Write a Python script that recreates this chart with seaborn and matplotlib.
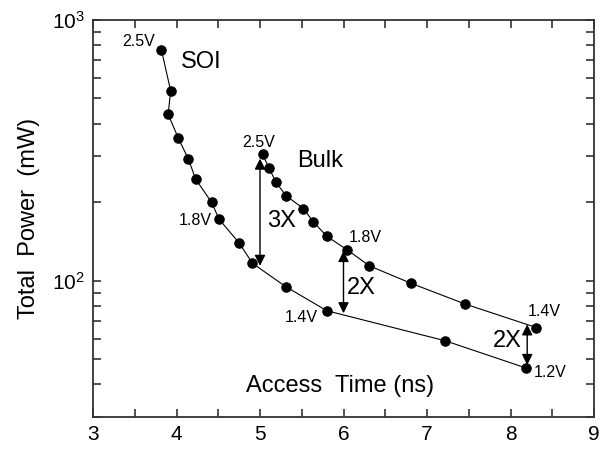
import math
import matplotlib
matplotlib.use("Agg")
import matplotlib.pyplot as plt
import matplotlib.ticker as mticker
import seaborn as sns
import pandas as pd

# ---- data ----
soi_time = [3.82, 3.93, 3.90, 4.02, 4.14, 4.23, 4.42, 4.51, 4.75, 4.91, 5.31, 5.80, 7.22, 8.19]
soi_power = [767, 535, 435, 353, 294, 245, 200, 172, 139.6, 116.6, 94.8, 76.7, 58.8, 46.2]
bulk_time = [5.03, 5.11, 5.19, 5.31, 5.52, 5.64, 5.80, 6.04, 6.31, 6.81, 7.46, 8.31]
bulk_power = [305, 270, 239, 212, 189, 168, 148, 131.6, 114, 97.7, 81.3, 66.1]

arrow_x = [5.0, 6.0, 8.2]
arrow_top = [294, 130, 68]
arrow_bottom = [114, 75, 47.5]
arrow_labels = ["3X", "2X", "2X"]

x_ticks = [3, 4, 5, 6, 7, 8, 9]
y_limits = [30, 1000]

sns.set_style("ticks")
plt.rcParams['font.family'] = ['Liberation Sans', 'DejaVu Sans']
plt.rcParams['mathtext.fontset'] = 'custom'
plt.rcParams['mathtext.rm'] = 'Liberation Sans'
plt.rcParams['mathtext.it'] = 'Liberation Sans'
for k in ['text.color', 'axes.labelcolor', 'xtick.color', 'ytick.color']:
    plt.rcParams[k] = 'black'

fig = plt.figure(figsize=(6.06, 4.5), dpi=100)
ax = fig.add_axes([93/606, 1-417/450, (594-93)/606, (417-20)/450])

df_soi = pd.DataFrame({"t": soi_time, "p": soi_power})
df_bulk = pd.DataFrame({"t": bulk_time, "p": bulk_power})
for df in (df_soi, df_bulk):
    sns.lineplot(data=df, x="t", y="p", sort=False, estimator=None, ax=ax,
                 color="black", lw=0.8, marker="o", markersize=6.8,
                 markeredgecolor="black", markerfacecolor="black")

for xa, yt, yb in zip(arrow_x, arrow_top, arrow_bottom):
    ax.annotate("", xy=(xa, yt), xytext=(xa, yb),
                arrowprops=dict(arrowstyle="<|-|>", color="black", lw=1.0,
                                mutation_scale=16, shrinkA=0, shrinkB=0))

ax.set_yscale("log")
ax.set_xlim(3, 9)
ax.set_ylim(*y_limits)
ax.set_xticks(x_ticks)
ax.set_xticklabels([str(v) for v in x_ticks])
ax.xaxis.set_minor_locator(mticker.MultipleLocator(0.5))
ax.yaxis.set_major_locator(mticker.LogLocator(base=10, numticks=10))
ax.yaxis.set_minor_locator(mticker.LogLocator(base=10, subs=range(2, 10), numticks=10))
ax.yaxis.set_major_formatter(mticker.FuncFormatter(
    lambda v, p: r"$10^{%d}$" % round(math.log10(v))))
ax.yaxis.set_minor_formatter(mticker.NullFormatter())

ax.tick_params(which="both", direction="in", top=True, right=True,
               length=6, width=1.1, color="#222222", labelcolor="black",
               labelsize=15, pad=6)
for s in ax.spines.values():
    s.set_visible(True)
    s.set_linewidth(1.3)
    s.set_color("#333333")

ax.set_xlabel("")
ax.set_ylabel("Total  Power  (mW)", fontsize=17, color="black")
ax.yaxis.set_label_coords(-0.105, 0.5)

fs_small = 11.5
fs_big = 17
# voltage labels
ax.text(3.55, 830, "2.5V", fontsize=fs_small, ha="center", va="center")
ax.text(4.23, 170, "1.8V", fontsize=fs_small, ha="center", va="center")
ax.text(5.50, 72.4, "1.4V", fontsize=fs_small, ha="center", va="center")
ax.text(8.47, 44.3, "1.2V", fontsize=fs_small, ha="center", va="center")
ax.text(4.98, 338, "2.5V", fontsize=fs_small, ha="center", va="center")
ax.text(6.26, 147, "1.8V", fontsize=fs_small, ha="center", va="center")
ax.text(8.41, 76, "1.4V", fontsize=fs_small, ha="center", va="center")
# series names
ax.text(4.29, 692, "SOI", fontsize=fs_big, ha="center", va="center")
ax.text(5.72, 289, "Bulk", fontsize=fs_big, ha="center", va="center")
# ratio labels
ax.text(5.26, 170, arrow_labels[0], fontsize=fs_big, ha="center", va="center")
ax.text(6.21, 93.6, arrow_labels[1], fontsize=fs_big, ha="center", va="center")
ax.text(7.96, 58.7, arrow_labels[2], fontsize=fs_big, ha="center", va="center")
# x label inside axes
ax.text(5.96, 39.5, "Access  Time (ns)", fontsize=fs_big, ha="center", va="center")

fig.savefig("out.png", dpi=100)
